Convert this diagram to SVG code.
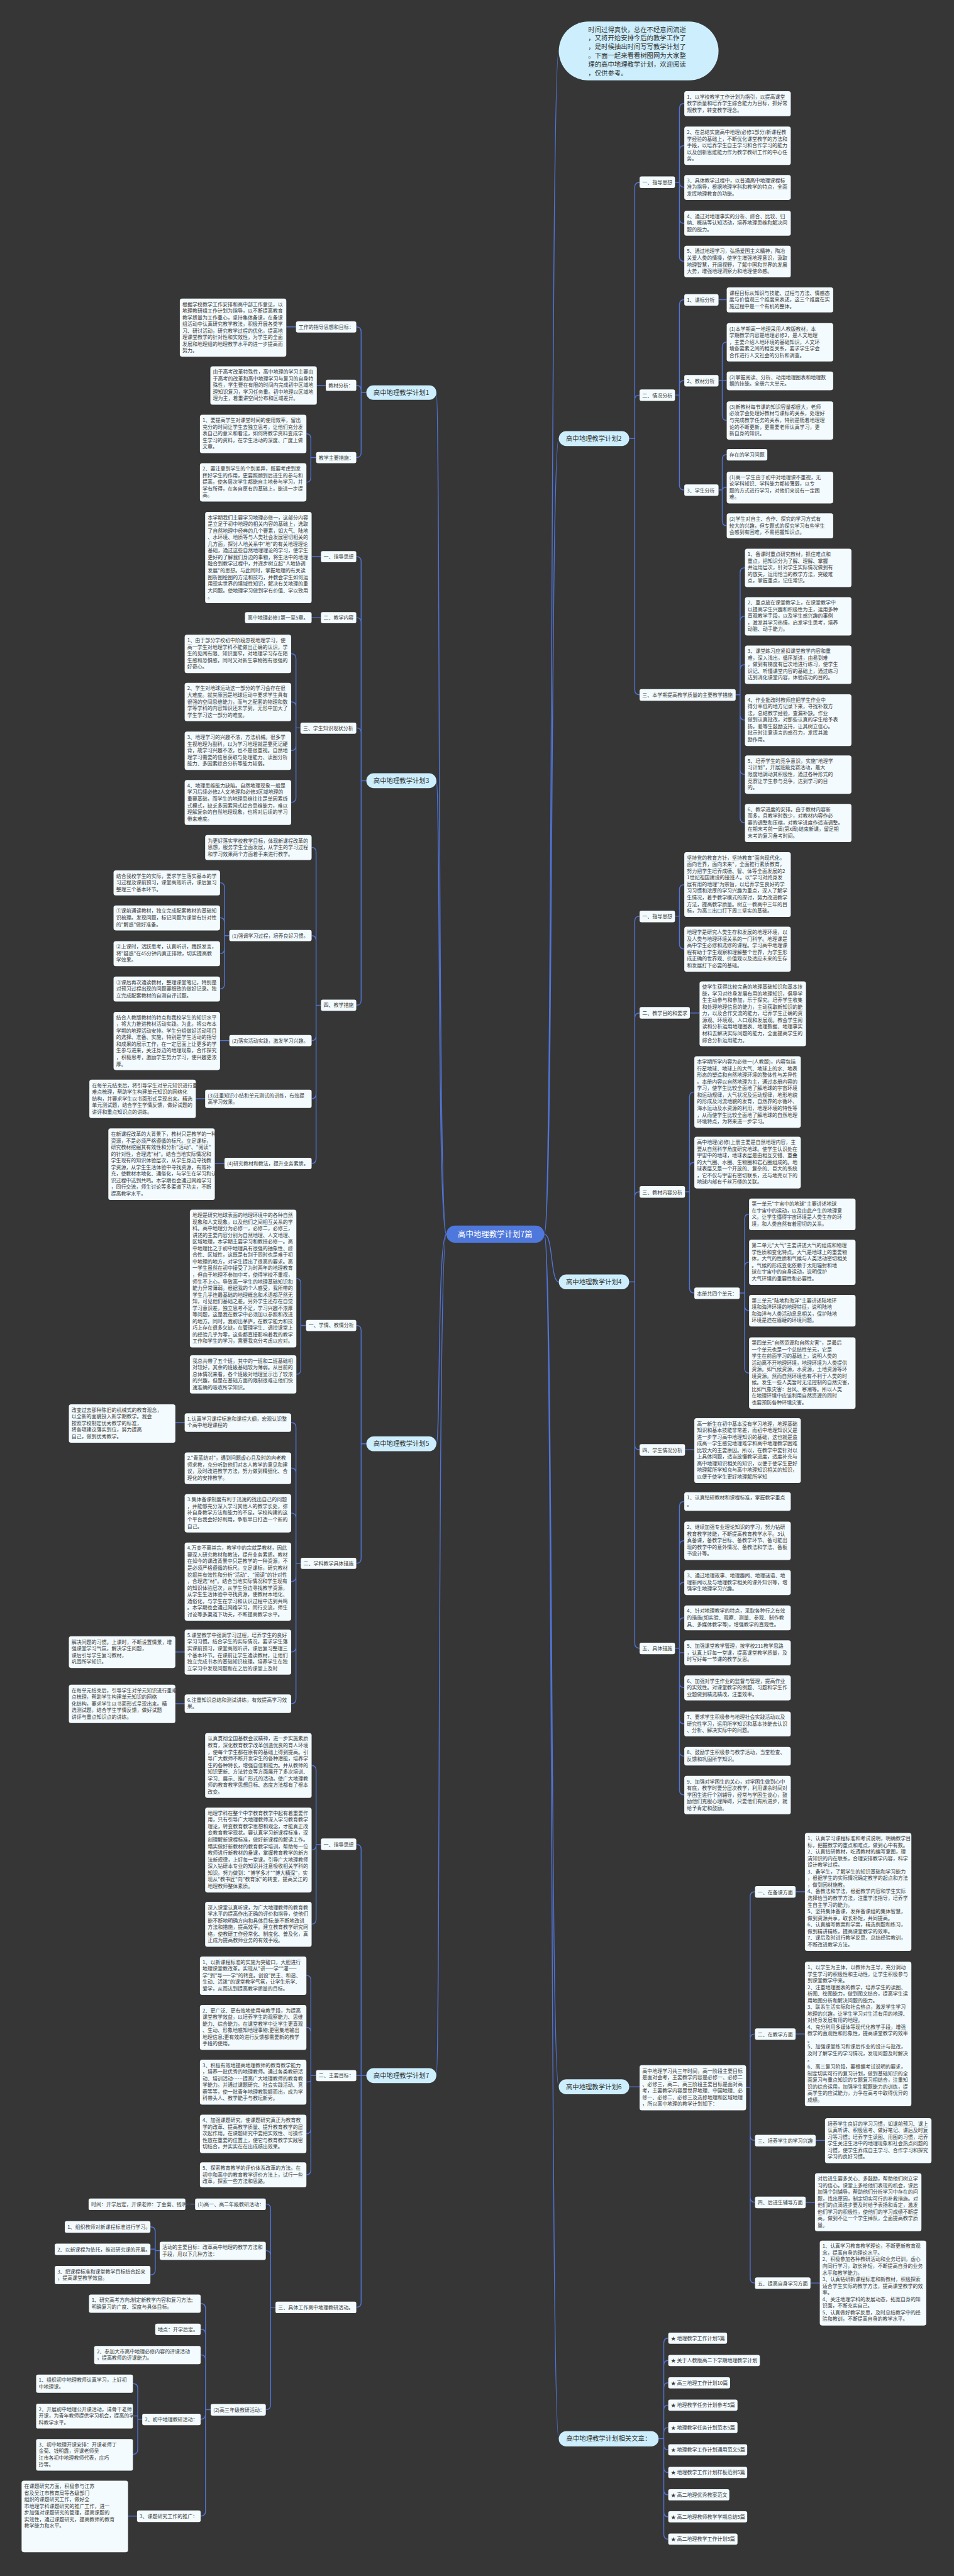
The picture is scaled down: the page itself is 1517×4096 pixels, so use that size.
<svg xmlns="http://www.w3.org/2000/svg" width="1517" height="4096" viewBox="0 0 1517 4096">
<style>
.b{fill:#f3fbfe}
.t{font-family:"Noto Sans CJK SC","Noto Sans",sans-serif;font-size:13.5px;fill:#3a3a3a}
.n1{fill:#cdeffd}
.t1{font-family:"Noto Sans CJK SC","Noto Sans",sans-serif;font-size:17.5px;fill:#333;text-anchor:middle}
.c{fill:none;stroke:#5174d6;stroke-width:2.4}
</style>
<rect width="1517" height="4096" fill="#363636"/>
<g transform="scale(0.592)">
<g id="connectors" class="c">
<path d="M1462,3315C1486,3315 1478,137 1501,137M1462,3315C1486,3315 1478,1178 1501,1178M1462,3315C1486,3315 1478,3443 1501,3443M1462,3315C1486,3315 1478,5605 1501,5605M1462,3315C1486,3315 1478,6550 1501,6550"/>
<path d="M1199,3315C1175,3315 1183,1054 1172,1054M1199,3315C1175,3315 1183,2097 1172,2097M1199,3315C1175,3315 1183,3878 1172,3878M1199,3315C1175,3315 1183,5575 1172,5575"/>
<path d="M1690,1178H1705M1705,1178V503Q1705,490 1718,490M1705,1178V1074Q1705,1061 1718,1061M1705,1178V1853Q1705,1866 1718,1866"/>
<path d="M1813,490H1825M1825,490V291Q1825,278 1838,278M1825,490V404Q1825,391 1838,391M1825,490V490Q1825,503 1838,503M1825,490V587Q1825,600 1838,600M1825,490V689Q1825,702 1838,702"/>
<path d="M1813,1061H1825M1825,1061V818Q1825,805 1838,805M1825,1061V1035Q1825,1022 1838,1022M1825,1061V1303Q1825,1316 1838,1316"/>
<path d="M1930,805H1952M1930,1022H1940M1940,1022V932Q1940,919 1952,919M1940,1022H1952M1940,1022V1116Q1940,1129 1952,1129"/>
<path d="M1930,1316H1940M1940,1316V1234Q1940,1221 1952,1221M1940,1316Q1940,1309 1952,1309M1940,1316V1399Q1940,1412 1952,1412"/>
<path d="M1976,1866H1988M1988,1866V1538Q1988,1525 2001,1525M1988,1866V1668Q1988,1655 2001,1655M1988,1866V1798Q1988,1785 2001,1785M1988,1866V1921Q1988,1934 2001,1934M1988,1866V2067Q1988,2080 2001,2080M1988,1866V2197Q1988,2210 2001,2210"/>
<path d="M1690,3443H1705M1705,3443V2474Q1705,2461 1718,2461M1705,3443V2734Q1705,2721 1718,2721M1705,3443V3214Q1705,3201 1718,3201M1705,3443V3881Q1705,3894 1718,3894M1705,3443V4414Q1705,4427 1718,4427"/>
<path d="M1813,2461H1825M1825,2461V2389Q1825,2376 1838,2376M1825,2461V2536Q1825,2549 1838,2549M1853,2721H1879"/>
<path d="M1840,3201H1852M1852,3201V2946Q1852,2933 1865,2933M1852,3201V3135Q1852,3122 1865,3122M1852,3201V3460Q1852,3473 1865,3473"/>
<path d="M1987,3473H2000M2000,3473V3274Q2000,3261 2012,3261M2000,3473V3403Q2000,3390 2012,3390M2000,3473V3507Q2000,3520 2012,3520M2000,3473V3675Q2000,3688 2012,3688M1840,3894H1865"/>
<path d="M1813,4427H1825M1825,4427V4046Q1825,4033 1838,4033M1825,4427V4151Q1825,4138 1838,4138M1825,4427V4263Q1825,4250 1838,4250M1825,4427V4358Q1825,4345 1838,4345M1825,4427V4439H1838M1825,4427V4520Q1825,4533 1838,4533M1825,4427V4617Q1825,4630 1838,4630M1825,4427V4704Q1825,4717 1838,4717M1825,4427V4808Q1825,4821 1838,4821"/>
<path d="M1690,5605H1718M2003,5607H2015M2015,5607V5094Q2015,5081 2028,5081M2015,5607V5476Q2015,5463 2028,5463M2015,5607V5736Q2015,5749 2028,5749M2015,5607V5902Q2015,5915 2028,5915M2015,5607V6119Q2015,6132 2028,6132"/>
<path d="M2137,5081H2162M2137,5463H2162M2191,5749H2216M2164,5915H2189M2177,6132H2202"/>
<path d="M1769,6550H1783M1783,6550V6293Q1783,6280 1795,6280M1783,6550V6353Q1783,6340 1795,6340M1783,6550V6413Q1783,6400 1795,6400M1783,6550V6473Q1783,6460 1795,6460M1783,6550V6533Q1783,6520 1795,6520M1783,6550V6567Q1783,6580 1795,6580M1783,6550V6628Q1783,6641 1795,6641M1783,6550V6688Q1783,6701 1795,6701M1783,6550V6747Q1783,6760 1795,6760M1783,6550V6807Q1783,6820 1795,6820"/>
<path d="M984,1054H970M970,1054V891Q970,878 957,878M970,1054V1048Q970,1035 957,1035M970,1054V1216Q970,1229 957,1229M795,878H769M875,1035H851M849,1229H835M835,1229V1178Q835,1165 823,1165M835,1229V1282Q835,1295 823,1295"/>
<path d="M984,2097H970M970,2097V1508Q970,1495 957,1495M970,2097V1672Q970,1659 957,1659M970,2097V1968Q970,1955 957,1955M970,2097V2687Q970,2700 957,2700M862,1495H837M862,1659H837"/>
<path d="M807,1955H795M795,1955V1769Q795,1756 782,1756M795,1955V1898Q795,1885 782,1885M795,1955V2003Q795,2016 782,2016M795,1955V2142Q795,2155 782,2155"/>
<path d="M862,2700H849M849,2700V2289Q849,2276 837,2276M849,2700V2526Q849,2513 837,2513M849,2700V2782Q849,2795 837,2795M849,2700V2938Q849,2951 837,2951M849,2700V3112Q849,3125 837,3125"/>
<path d="M616,2513H603M603,2513V2384Q603,2371 591,2371M603,2513V2478Q603,2465 591,2465M603,2513V2548Q603,2561 591,2561M603,2513V2643Q603,2656 591,2656M616,2795H591M552,2951H526M603,3125H577"/>
<path d="M984,3878H970M970,3878V3573Q970,3560 957,3560M970,3878V4186Q970,4199 957,4199M822,3560H808M808,3560V3447Q808,3434 796,3434M808,3560V3678Q808,3691 796,3691"/>
<path d="M808,4199H795M795,4199V3834Q795,3821 782,3821M795,4199V3956Q795,3943 782,3943M795,4199V4077Q795,4064 782,4064M795,4199V4235Q795,4248 782,4248M795,4199V4424Q795,4437 782,4437M795,4199V4563Q795,4576 782,4576M497,3821H471M497,4437H471M497,4576H471"/>
<path d="M984,5575H970M970,5575V4967Q970,4954 957,4954M970,5575H957M970,5575V6184Q970,6197 957,6197M862,4954H849M849,4954V4755Q849,4742 837,4742M849,4954V4956Q849,4969 837,4969M849,4954V5155Q849,5168 837,5168"/>
<path d="M849,5575H835M835,5575V5319Q835,5306 823,5306M835,5575V5458Q835,5445 823,5445M835,5575V5588Q835,5592 823,5592M835,5575V5718Q835,5731 823,5731M835,5575V5828Q835,5841 823,5841"/>
<path d="M740,6197H727M727,6197V5933Q727,5920 714,5920M727,6197V6058Q727,6045 714,6045M727,6197V6459Q727,6472 714,6472M524,5920H498M429,6045H417M417,6045V5994Q417,5981 404,5981M417,6045V6041H404M417,6045V6097Q417,6110 404,6110"/>
<path d="M566,6472H552M552,6472V6200Q552,6187 539,6187M552,6472V6269Q552,6256 539,6256M552,6472V6338Q552,6325 539,6325M552,6472V6485Q552,6498 539,6498M552,6472V6745Q552,6758 539,6758M382,6498H370M370,6498V6415Q370,6402 357,6402M370,6498V6489H357M370,6498V6579Q370,6592 357,6592M368,6758H344"/>
</g>

<g id="center"><rect x="1199" y="3292" width="263" height="46" rx="23" fill="#4f78dc"/><text x="1330" y="3322" font-family="Noto Sans CJK SC,sans-serif" font-size="21" fill="#fff" text-anchor="middle">高中地理教学计划7篇</text></g>

<g id="intro"><rect class="n1" x="1501" y="58" width="429" height="158" rx="79"/><text class="t" style="font-size:17.5px;fill:#333" x="1580" y="62"><tspan x="1580" dy="23.4">时间过得真快，总在不经意间流逝</tspan><tspan x="1580" dy="23.4">，又将开始安排今后的教学工作了</tspan><tspan x="1580" dy="23.4">，是时候抽出时间写写教学计划了</tspan><tspan x="1580" dy="23.4">。下面一起来看看树图网为大家整</tspan><tspan x="1580" dy="23.4">理的高中地理教学计划，欢迎阅读</tspan><tspan x="1580" dy="23.4">，仅供参考。</tspan></text></g>

<g id="plan2"><rect class="n1" x="1501" y="1158" width="189" height="40" rx="20"/><text class="t1" x="1595" y="1184">高中地理教学计划2</text></g>
<g id="p2-1"><rect class="b" x="1718" y="474" width="95" height="31" rx="5"/><text class="t" x="1725" y="495">一、指导思想</text></g>
<g id="p2-1a"><rect class="b" x="1838" y="245" width="286" height="67" rx="6"/><text class="t" x="1845" y="247"><tspan x="1845" dy="17.8">1、以学校教学工作计划为指引，以提高课堂</tspan><tspan x="1845" dy="17.8">教学质量和培养学生综合能力为目标，抓好常</tspan><tspan x="1845" dy="17.8">规教学，转变教学理念。</tspan></text></g>
<g id="p2-1b"><rect class="b" x="1838" y="340" width="286" height="103" rx="6"/><text class="t" x="1845" y="342"><tspan x="1845" dy="17.8">2、在总结实施高中地理(必修1部分)新课程教</tspan><tspan x="1845" dy="17.8">学经验的基础上，不断优化课堂教学的方法和</tspan><tspan x="1845" dy="17.8">手段，以培养学生自主学习和合作学习的能力</tspan><tspan x="1845" dy="17.8">以及创新思维能力作为教学教研工作的中心任</tspan><tspan x="1845" dy="17.8">务。</tspan></text></g>
<g id="p2-1c"><rect class="b" x="1838" y="470" width="286" height="67" rx="6"/><text class="t" x="1845" y="472"><tspan x="1845" dy="17.8">3、具体教学过程中，以普通高中地理课程标</tspan><tspan x="1845" dy="17.8">准为指导，根据地理学科和教学的特点，全面</tspan><tspan x="1845" dy="17.8">发挥地理教育的功能。</tspan></text></g>
<g id="p2-1d"><rect class="b" x="1838" y="566" width="286" height="67" rx="6"/><text class="t" x="1845" y="568"><tspan x="1845" dy="17.8">4、通过对地理事实的分析、综合、比较、归</tspan><tspan x="1845" dy="17.8">纳、概括等认知活动，培养地理思维和解决问</tspan><tspan x="1845" dy="17.8">题的能力。</tspan></text></g>
<g id="p2-1e"><rect class="b" x="1838" y="660" width="286" height="85" rx="6"/><text class="t" x="1845" y="662"><tspan x="1845" dy="17.8">5、通过地理学习，弘扬爱国主义精神，陶冶</tspan><tspan x="1845" dy="17.8">关爱人类的情操，使学生增强地理意识，汲取</tspan><tspan x="1845" dy="17.8">地理智慧，开阔视野，了解中国和世界的发展</tspan><tspan x="1845" dy="17.8">大势，增强地理洞察力和地理使命感。</tspan></text></g>
<g id="p2-2"><rect class="b" x="1718" y="1046" width="95" height="31" rx="5"/><text class="t" x="1725" y="1067">二、情况分析</text></g>
<g id="p2-2-1"><rect class="b" x="1838" y="790" width="92" height="31" rx="5"/><text class="t" x="1845" y="811">1、课标分析</text></g>
<g id="p2-2-1a"><rect class="b" x="1952" y="772" width="286" height="67" rx="6"/><text class="t" x="1959" y="774"><tspan x="1959" dy="17.8">课程目标从知识与技能、过程与方法、情感态</tspan><tspan x="1959" dy="17.8">度与价值观三个维度来表述，这三个维度在实</tspan><tspan x="1959" dy="17.8">施过程中是一个有机的整体。</tspan></text></g>
<g id="p2-2-2"><rect class="b" x="1838" y="1007" width="92" height="31" rx="5"/><text class="t" x="1845" y="1028">2、教材分析</text></g>
<g id="p2-2-2a"><rect class="b" x="1952" y="868" width="286" height="103" rx="6"/><text class="t" x="1959" y="870"><tspan x="1959" dy="17.8">(1)本学期高一地理采用人教版教材，本</tspan><tspan x="1959" dy="17.8">学期教学内容是地理必修2，是人文地理</tspan><tspan x="1959" dy="17.8">，主要介绍人地环境的基础知识，人文环</tspan><tspan x="1959" dy="17.8">境各要素之间的相互关系，要求学生学会</tspan><tspan x="1959" dy="17.8">合作进行人文社会的分析和调查。</tspan></text></g>
<g id="p2-2-2b"><rect class="b" x="1952" y="998" width="286" height="50" rx="6"/><text class="t" x="1959" y="1000"><tspan x="1959" dy="17.8">(2)掌握阅读、分析、动用地理图表和地理数</tspan><tspan x="1959" dy="17.8">据的技能。全册六大单元。</tspan></text></g>
<g id="p2-2-2c"><rect class="b" x="1952" y="1078" width="286" height="103" rx="6"/><text class="t" x="1959" y="1080"><tspan x="1959" dy="17.8">(3)新教材每节课的知识容量都很大，老师</tspan><tspan x="1959" dy="17.8">必须学会处理好教材与课标的关系，处理好</tspan><tspan x="1959" dy="17.8">与完成教学任务的关系，特别是随着地理理</tspan><tspan x="1959" dy="17.8">论的不断更新，更需要老师认真学习，更</tspan><tspan x="1959" dy="17.8">新自身的知识。</tspan></text></g>
<g id="p2-2-3"><rect class="b" x="1838" y="1301" width="92" height="31" rx="5"/><text class="t" x="1845" y="1322">3、学生分析</text></g>
<g id="p2-2-3a"><rect class="b" x="1952" y="1206" width="109" height="31" rx="5"/><text class="t" x="1959" y="1227">存在的学习问题</text></g>
<g id="p2-2-3b"><rect class="b" x="1952" y="1267" width="286" height="85" rx="6"/><text class="t" x="1959" y="1269"><tspan x="1959" dy="17.8">(1)高一学生由于初中对地理课不重视，无</tspan><tspan x="1959" dy="17.8">论学科知识、学科能力都较薄弱，以专</tspan><tspan x="1959" dy="17.8">题的方式进行学习，对他们来说有一定困</tspan><tspan x="1959" dy="17.8">难。</tspan></text></g>
<g id="p2-2-3c"><rect class="b" x="1952" y="1379" width="286" height="67" rx="6"/><text class="t" x="1959" y="1381"><tspan x="1959" dy="17.8">(2)学生对自主、合作、探究的学习方式有</tspan><tspan x="1959" dy="17.8">较大的兴趣，但专题式的探究学习有些学生</tspan><tspan x="1959" dy="17.8">会感到有困难，不易把握知识点。</tspan></text></g>
<g id="p2-3"><rect class="b" x="1718" y="1851" width="258" height="31" rx="5"/><text class="t" x="1725" y="1872">三、本学期提高教学质量的主要教学措施</text></g>
<g id="p2-3a"><rect class="b" x="2001" y="1474" width="286" height="103" rx="6"/><text class="t" x="2008" y="1476"><tspan x="2008" dy="17.8">1、备课时重点研究教材，抓住难点和</tspan><tspan x="2008" dy="17.8">重点，把知识分为了解、理解、掌握</tspan><tspan x="2008" dy="17.8">并运用层次，针对学生实际情况做到有</tspan><tspan x="2008" dy="17.8">的放矢，运用恰当的教学方法，突破难</tspan><tspan x="2008" dy="17.8">点，掌握重点，记住常识。</tspan></text></g>
<g id="p2-3b"><rect class="b" x="2001" y="1604" width="286" height="103" rx="6"/><text class="t" x="2008" y="1606"><tspan x="2008" dy="17.8">2、重点放在课堂教学上，在课堂教学中</tspan><tspan x="2008" dy="17.8">以提高学生兴趣和积极性为主，运用多种</tspan><tspan x="2008" dy="17.8">直观教学手段，以及学生感兴趣的事例</tspan><tspan x="2008" dy="17.8">，激发其学习热情，启发学生思考，培养</tspan><tspan x="2008" dy="17.8">动脑、动手能力。</tspan></text></g>
<g id="p2-3c"><rect class="b" x="2001" y="1734" width="286" height="103" rx="6"/><text class="t" x="2008" y="1736"><tspan x="2008" dy="17.8">3、课堂练习应紧扣课堂教学内容和重</tspan><tspan x="2008" dy="17.8">难，深入浅出，循序渐进，由易到难</tspan><tspan x="2008" dy="17.8">，做到有梯度有层次地进行练习，使学生</tspan><tspan x="2008" dy="17.8">识记、听懂课堂内容的基础上，通过练习</tspan><tspan x="2008" dy="17.8">达到消化课堂内容，体验成功的目的。</tspan></text></g>
<g id="p2-3d"><rect class="b" x="2001" y="1865" width="286" height="139" rx="6"/><text class="t" x="2008" y="1867"><tspan x="2008" dy="17.8">4、作业批改时教师应把学生作业中</tspan><tspan x="2008" dy="17.8">得分率低的地方记录下来，寻找补救方</tspan><tspan x="2008" dy="17.8">法，总结教学经验，查漏补缺。作业</tspan><tspan x="2008" dy="17.8">做到认真批改，对那些认真的学生给予表</tspan><tspan x="2008" dy="17.8">扬，差等生鼓励支持，让其树立信心。</tspan><tspan x="2008" dy="17.8">批示时注意语言的感召力，发挥其激</tspan><tspan x="2008" dy="17.8">励作用。</tspan></text></g>
<g id="p2-3e"><rect class="b" x="2001" y="2029" width="286" height="103" rx="6"/><text class="t" x="2008" y="2031"><tspan x="2008" dy="17.8">5、培养学生的竞争意识，实施"地理学</tspan><tspan x="2008" dy="17.8">习计划"，开展班级竞赛活动，最大</tspan><tspan x="2008" dy="17.8">限度地调动其积极性，通过各种形式的</tspan><tspan x="2008" dy="17.8">竞赛让学生参与竞争，达到学习的目</tspan><tspan x="2008" dy="17.8">的。</tspan></text></g>
<g id="p2-3f"><rect class="b" x="2001" y="2159" width="286" height="103" rx="6"/><text class="t" x="2008" y="2161"><tspan x="2008" dy="17.8">6、教学进度的安排。由于教材内容新</tspan><tspan x="2008" dy="17.8">而多，且教学时数少，对教材内容作必</tspan><tspan x="2008" dy="17.8">要的调整和压缩，对教学进度作适当调整。</tspan><tspan x="2008" dy="17.8">在期末考前一周(第x周)结束新课，留足期</tspan><tspan x="2008" dy="17.8">末考的复习备考时间。</tspan></text></g>

<g id="plan4"><rect class="n1" x="1501" y="3423" width="189" height="40" rx="20"/><text class="t1" x="1595" y="3449">高中地理教学计划4</text></g>
<g id="p4-1"><rect class="b" x="1718" y="2446" width="95" height="31" rx="5"/><text class="t" x="1725" y="2467">一、指导思想</text></g>
<g id="p4-1a"><rect class="b" x="1838" y="2289" width="286" height="174" rx="6"/><text class="t" x="1845" y="2291"><tspan x="1845" dy="17.8">坚持党的教育方针，坚持教育"面向现代化，</tspan><tspan x="1845" dy="17.8">面向世界，面向未来"，全面推行素质教育，</tspan><tspan x="1845" dy="17.8">努力把学生培养成德、智、体等全面发展的2</tspan><tspan x="1845" dy="17.8">1世纪祖国建设的接班人。以"学习对终身发</tspan><tspan x="1845" dy="17.8">展有用的地理"为宗旨，以培养学生良好的学</tspan><tspan x="1845" dy="17.8">习习惯和浓厚的学习兴趣为重点，深入了解学</tspan><tspan x="1845" dy="17.8">生情况，着手教学模式的探讨，努力改进教学</tspan><tspan x="1845" dy="17.8">方法，提高教学质量。树立一教高中三年的目</tspan><tspan x="1845" dy="17.8">标，为高三出口打下周三坚实的基础。</tspan></text></g>
<g id="p4-1b"><rect class="b" x="1838" y="2489" width="286" height="121" rx="6"/><text class="t" x="1845" y="2491"><tspan x="1845" dy="17.8">地理学是研究人类生存和发展的地理环境，以</tspan><tspan x="1845" dy="17.8">及人类与地理环境关系的一门科学。地理课是</tspan><tspan x="1845" dy="17.8">高中学生必修和选修的课程。学习高中地理课</tspan><tspan x="1845" dy="17.8">程有助于学生观察和理解整个世界，为学生形</tspan><tspan x="1845" dy="17.8">成正确的世界观、价值观以及适应未来的生存</tspan><tspan x="1845" dy="17.8">和发展打下必要的基础。</tspan></text></g>
<g id="p4-2"><rect class="b" x="1718" y="2705" width="135" height="31" rx="5"/><text class="t" x="1725" y="2726">二、教学目的和要求</text></g>
<g id="p4-2a"><rect class="b" x="1879" y="2636" width="286" height="174" rx="6"/><text class="t" x="1886" y="2638"><tspan x="1886" dy="17.8">使学生获得比较完备的地理基础知识和基本技</tspan><tspan x="1886" dy="17.8">能，学习对终身发展有用的地理知识，倡导学</tspan><tspan x="1886" dy="17.8">生主动参与和参加，乐于探究。培养学生收集</tspan><tspan x="1886" dy="17.8">和处理地理信息的能力，主动获取新知识的能</tspan><tspan x="1886" dy="17.8">力，以及合作交流的能力，培养学生正确的资</tspan><tspan x="1886" dy="17.8">源观、环境观、人口观和发展观。教会学生阅</tspan><tspan x="1886" dy="17.8">读和分析运用地理图表、地理数据、地理事实</tspan><tspan x="1886" dy="17.8">材料去解决实际问题的能力，全面提高学生的</tspan><tspan x="1886" dy="17.8">综合分析运用能力。</tspan></text></g>
<g id="p4-3"><rect class="b" x="1718" y="3186" width="122" height="31" rx="5"/><text class="t" x="1725" y="3207">三、教材内容分析</text></g>
<g id="p4-3a"><rect class="b" x="1865" y="2837" width="286" height="192" rx="6"/><text class="t" x="1872" y="2839"><tspan x="1872" dy="17.8">本学期所学内容为必修一(人教版)，内容包括</tspan><tspan x="1872" dy="17.8">行星地球、地球上的大气、地球上的水、地表</tspan><tspan x="1872" dy="17.8">形态的塑造和自然地理环境的整体性与差异性</tspan><tspan x="1872" dy="17.8">。本册内容以自然地理为主，通过本册内容的</tspan><tspan x="1872" dy="17.8">学习，使学生比较全面地了解地球的宇宙环境</tspan><tspan x="1872" dy="17.8">和运动规律，大气状况及运动规律，地形地貌</tspan><tspan x="1872" dy="17.8">的形成及河流地貌的发育，自然界的水循环、</tspan><tspan x="1872" dy="17.8">海水运动及水资源的利用，地理环境的特性等</tspan><tspan x="1872" dy="17.8">，从而使学生比较全面地了解地球的自然地理</tspan><tspan x="1872" dy="17.8">环境特点，为将来进一步学习。</tspan></text></g>
<g id="p4-3b"><rect class="b" x="1865" y="3053" width="286" height="139" rx="6"/><text class="t" x="1872" y="3055"><tspan x="1872" dy="17.8">高中地理(必修)上册主要是自然地理内容，主</tspan><tspan x="1872" dy="17.8">要从自然科学角度研究地球。使学生认识处在</tspan><tspan x="1872" dy="17.8">宇宙中的地球，地球表层是由相互交错、重叠</tspan><tspan x="1872" dy="17.8">的大气圈、水圈、生物圈和岩石圈组成的。地</tspan><tspan x="1872" dy="17.8">球表层又是一个开放的、复杂的、巨大的系统</tspan><tspan x="1872" dy="17.8">，它不仅与宇宙有密切联系，还与地壳以下的</tspan><tspan x="1872" dy="17.8">地球内部有千丝万缕的关联。</tspan></text></g>
<g id="p4-3c"><rect class="b" x="1865" y="3458" width="122" height="31" rx="5"/><text class="t" x="1872" y="3479">本册共四个单元：</text></g>
<g id="p4-3c1"><rect class="b" x="2012" y="3219" width="286" height="85" rx="6"/><text class="t" x="2019" y="3221"><tspan x="2019" dy="17.8">第一单元"宇宙中的地球"主要讲述地球</tspan><tspan x="2019" dy="17.8">在宇宙中的运动，以及由此产生的地理意</tspan><tspan x="2019" dy="17.8">义。让学生懂得宇宙环境是人类生存的环</tspan><tspan x="2019" dy="17.8">境，和人类自然有着密切的关系。</tspan></text></g>
<g id="p4-3c2"><rect class="b" x="2012" y="3330" width="286" height="121" rx="6"/><text class="t" x="2019" y="3332"><tspan x="2019" dy="17.8">第二单元"大气"主要讲述大气的组成和物理</tspan><tspan x="2019" dy="17.8">学性质和变化特点。大气是地球上的重要物</tspan><tspan x="2019" dy="17.8">体，大气的性质和气候与人类活动密切相关</tspan><tspan x="2019" dy="17.8">。气候的形成变化依赖于太阳辐射和地</tspan><tspan x="2019" dy="17.8">球在宇宙中的自身运动，说明保护</tspan><tspan x="2019" dy="17.8">大气环境的重要性和必要性。</tspan></text></g>
<g id="p4-3c3"><rect class="b" x="2012" y="3478" width="286" height="85" rx="6"/><text class="t" x="2019" y="3480"><tspan x="2019" dy="17.8">第三单元"陆地和海洋"主要讲述陆地环</tspan><tspan x="2019" dy="17.8">境和海洋环境的地理特征，说明陆地</tspan><tspan x="2019" dy="17.8">和海洋与人类活动息息相关，保护陆地</tspan><tspan x="2019" dy="17.8">环境是迫在眉睫的环境问题。</tspan></text></g>
<g id="p4-3c4"><rect class="b" x="2012" y="3592" width="286" height="192" rx="6"/><text class="t" x="2019" y="3594"><tspan x="2019" dy="17.8">第四单元"自然资源和自然灾害"，是最后</tspan><tspan x="2019" dy="17.8">一个单元也是一个总结性单元，它是</tspan><tspan x="2019" dy="17.8">学生在前面学习的基础上，说明人类的</tspan><tspan x="2019" dy="17.8">活动离不开地理环境，地理环境为人类提供</tspan><tspan x="2019" dy="17.8">资源。如气候资源，水资源，土地资源等环</tspan><tspan x="2019" dy="17.8">境资源。然而自然环境也有不利于人类的时</tspan><tspan x="2019" dy="17.8">候。发生一些人类暂时无法控制的自然灾害，</tspan><tspan x="2019" dy="17.8">比如气象灾害：台风、寒潮等。所以人类</tspan><tspan x="2019" dy="17.8">在地理环境中应该利用自然资源的同时</tspan><tspan x="2019" dy="17.8">也要预防各种环境灾害。</tspan></text></g>
<g id="p4-4"><rect class="b" x="1718" y="3879" width="122" height="31" rx="5"/><text class="t" x="1725" y="3900">四、学生情况分析</text></g>
<g id="p4-4a"><rect class="b" x="1865" y="3809" width="286" height="174" rx="6"/><text class="t" x="1872" y="3811"><tspan x="1872" dy="17.8">高一新生在初中基本没有学习地理，地理基础</tspan><tspan x="1872" dy="17.8">知识和基本技能非常差，而初中地理知识又是</tspan><tspan x="1872" dy="17.8">进一步学习高中地理知识的基础，这也就是造</tspan><tspan x="1872" dy="17.8">成高一学生感觉地理难学和高中地理教学困难</tspan><tspan x="1872" dy="17.8">比较大的主要原因。所以，在教学中要针对以</tspan><tspan x="1872" dy="17.8">上具体问题，适当放慢教学进度，适度补充与</tspan><tspan x="1872" dy="17.8">高中地理知识相关的知识，以便于使学生更好</tspan><tspan x="1872" dy="17.8">地理解所学知充与高中地理知识相关的知识，</tspan><tspan x="1872" dy="17.8">以便于使学生更好地理解所学知</tspan></text></g>
<g id="p4-5"><rect class="b" x="1718" y="4412" width="95" height="31" rx="5"/><text class="t" x="1725" y="4433">五、具体措施</text></g>
<g id="p4-5a"><rect class="b" x="1838" y="4008" width="286" height="50" rx="6"/><text class="t" x="1845" y="4010"><tspan x="1845" dy="17.8">1、认真钻研教材和课程标准，掌握教学重点</tspan><tspan x="1845" dy="17.8">。</tspan></text></g>
<g id="p4-5b"><rect class="b" x="1838" y="4087" width="286" height="103" rx="6"/><text class="t" x="1845" y="4089"><tspan x="1845" dy="17.8">2、继续加强专业理论知识的学习，努力钻研</tspan><tspan x="1845" dy="17.8">教育教学技能，不断提高教育教学水平。3认</tspan><tspan x="1845" dy="17.8">真备课，备教学目标、备教学环节、备可能出</tspan><tspan x="1845" dy="17.8">现的教学中的意外情况、备教法和学法、备板</tspan><tspan x="1845" dy="17.8">书设计等。</tspan></text></g>
<g id="p4-5c"><rect class="b" x="1838" y="4217" width="286" height="67" rx="6"/><text class="t" x="1845" y="4219"><tspan x="1845" dy="17.8">3、通过地理故事、地理趣闻、地理谜语、地</tspan><tspan x="1845" dy="17.8">理新闻以及与地理教学相关的课外知识等，增</tspan><tspan x="1845" dy="17.8">强学生地理学习兴趣。</tspan></text></g>
<g id="p4-5d"><rect class="b" x="1838" y="4312" width="286" height="67" rx="6"/><text class="t" x="1845" y="4314"><tspan x="1845" dy="17.8">4、针对地理教学的特点，采取各种行之有效</tspan><tspan x="1845" dy="17.8">的措施(如实验、观察、测量、参观、制作教</tspan><tspan x="1845" dy="17.8">具、多媒体教学等)，增强教学的直观性。</tspan></text></g>
<g id="p4-5e"><rect class="b" x="1838" y="4406" width="286" height="67" rx="6"/><text class="t" x="1845" y="4408"><tspan x="1845" dy="17.8">5、加强课堂教学管理，按学校211教学思路</tspan><tspan x="1845" dy="17.8">，认真上好每一堂课，提高课堂教学质量，及</tspan><tspan x="1845" dy="17.8">时写好每一节课的教学反思。</tspan></text></g>
<g id="p4-5f"><rect class="b" x="1838" y="4500" width="286" height="67" rx="6"/><text class="t" x="1845" y="4502"><tspan x="1845" dy="17.8">6、加强对学生作业的监督与管理，提高作业</tspan><tspan x="1845" dy="17.8">的实效性。对课堂教学的例题、习题和学生作</tspan><tspan x="1845" dy="17.8">业题做到精选精改，注重效率。</tspan></text></g>
<g id="p4-5g"><rect class="b" x="1838" y="4597" width="286" height="67" rx="6"/><text class="t" x="1845" y="4599"><tspan x="1845" dy="17.8">7、要求学生积极参与地理社会实践活动以及</tspan><tspan x="1845" dy="17.8">研究性学习，运用所学知识和基本技能去认识</tspan><tspan x="1845" dy="17.8">、分析、解决实际中的问题。</tspan></text></g>
<g id="p4-5h"><rect class="b" x="1838" y="4692" width="286" height="50" rx="6"/><text class="t" x="1845" y="4694"><tspan x="1845" dy="17.8">8、鼓励学生积极参与教学活动，当堂检查、</tspan><tspan x="1845" dy="17.8">反馈和巩固所学知识。</tspan></text></g>
<g id="p4-5i"><rect class="b" x="1838" y="4770" width="286" height="103" rx="6"/><text class="t" x="1845" y="4772"><tspan x="1845" dy="17.8">9、加强对学困生的关心，对学困生做到心中</tspan><tspan x="1845" dy="17.8">有底，教学时要分层次教学，利用课余时间对</tspan><tspan x="1845" dy="17.8">学困生进行个别辅导，经常与学困生谈心，鼓</tspan><tspan x="1845" dy="17.8">励他们克服心理障碍，只要他们有所进步，就</tspan><tspan x="1845" dy="17.8">给予肯定和鼓励。</tspan></text></g>

<g id="plan6"><rect class="n1" x="1501" y="5585" width="189" height="40" rx="20"/><text class="t1" x="1595" y="5611">高中地理教学计划6</text></g>
<g id="p6-0"><rect class="b" x="1718" y="5547" width="286" height="121" rx="6"/><text class="t" x="1725" y="5549"><tspan x="1725" dy="17.8">高中地理学习共三年时间，高一阶段主要目标</tspan><tspan x="1725" dy="17.8">是面对会考，主要教学内容是必修一、必修二</tspan><tspan x="1725" dy="17.8">、必修三，高二、高三阶段主要目标是面对高</tspan><tspan x="1725" dy="17.8">考，主要教学内容是世界地理、中国地理、必</tspan><tspan x="1725" dy="17.8">修一、必修二、必修三及选修地理和区域地理</tspan><tspan x="1725" dy="17.8">，所以高中地理的教学计划如下：</tspan></text></g>
<g id="p6-1"><rect class="b" x="2028" y="5066" width="109" height="31" rx="5"/><text class="t" x="2035" y="5087">一、在备课方面</text></g>
<g id="p6-1a"><rect class="b" x="2162" y="4923" width="286" height="317" rx="6"/><text class="t" x="2169" y="4925"><tspan x="2169" dy="17.8">1、认真学习课程标准和考试说明，明确教学目</tspan><tspan x="2169" dy="17.8">标，把握教学的重点和难点，做到心中有数。</tspan><tspan x="2169" dy="17.8">2、认真钻研教材，吃透教材的编写意图，理</tspan><tspan x="2169" dy="17.8">清知识的内在联系，合理安排教学内容，科学</tspan><tspan x="2169" dy="17.8">设计教学过程。</tspan><tspan x="2169" dy="17.8">3、备学生，了解学生的知识基础和学习能力</tspan><tspan x="2169" dy="17.8">，根据学生的实际情况确定教学的起点和方法</tspan><tspan x="2169" dy="17.8">，做到因材施教。</tspan><tspan x="2169" dy="17.8">4、备教法和学法，根据教学内容和学生实际</tspan><tspan x="2169" dy="17.8">选择恰当的教学方法，注重学法指导，培养学</tspan><tspan x="2169" dy="17.8">生自主学习的能力。</tspan><tspan x="2169" dy="17.8">5、坚持集体备课，发挥备课组的集体智慧，</tspan><tspan x="2169" dy="17.8">做到资源共享，取长补短，共同提高。</tspan><tspan x="2169" dy="17.8">6、认真编写教案和学案，精选例题和练习，</tspan><tspan x="2169" dy="17.8">做到精讲精练，提高课堂教学的效率。</tspan><tspan x="2169" dy="17.8">7、课后及时进行教学反思，总结经验教训，</tspan><tspan x="2169" dy="17.8">不断改进教学方法。</tspan></text></g>
<g id="p6-2"><rect class="b" x="2028" y="5448" width="109" height="31" rx="5"/><text class="t" x="2035" y="5469">二、在教学方面</text></g>
<g id="p6-2a"><rect class="b" x="2162" y="5269" width="286" height="388" rx="6"/><text class="t" x="2169" y="5271"><tspan x="2169" dy="17.8">1、以学生为主体，以教师为主导，充分调动</tspan><tspan x="2169" dy="17.8">学生学习的积极性和主动性，让学生积极参与</tspan><tspan x="2169" dy="17.8">到课堂教学中来。</tspan><tspan x="2169" dy="17.8">2、注重地理图表的教学，培养学生的读图、</tspan><tspan x="2169" dy="17.8">析图、绘图能力，做到图文结合，提高学生运</tspan><tspan x="2169" dy="17.8">用地图分析和解决问题的能力。</tspan><tspan x="2169" dy="17.8">3、联系生活实际和社会热点，激发学生学习</tspan><tspan x="2169" dy="17.8">地理的兴趣，让学生学习对生活有用的地理、</tspan><tspan x="2169" dy="17.8">对终身发展有用的地理。</tspan><tspan x="2169" dy="17.8">4、充分利用多媒体等现代化教学手段，增强</tspan><tspan x="2169" dy="17.8">教学的直观性和形象性，提高课堂教学的效率</tspan><tspan x="2169" dy="17.8">。</tspan><tspan x="2169" dy="17.8">5、加强课堂练习和课后作业的设计与批改，</tspan><tspan x="2169" dy="17.8">及时了解学生的学习情况，发现问题及时解决</tspan><tspan x="2169" dy="17.8">。</tspan><tspan x="2169" dy="17.8">6、高三复习阶段，要根据考试说明的要求，</tspan><tspan x="2169" dy="17.8">制定切实可行的复习计划，做到基础知识的全</tspan><tspan x="2169" dy="17.8">面复习与重点知识的专题复习相结合，注重知</tspan><tspan x="2169" dy="17.8">识的综合运用，加强学生解题能力的训练，提</tspan><tspan x="2169" dy="17.8">高学生的应试能力，力争在高考中取得优异的</tspan><tspan x="2169" dy="17.8">成绩。</tspan></text></g>
<g id="p6-3"><rect class="b" x="2028" y="5734" width="163" height="31" rx="5"/><text class="t" x="2035" y="5755">三、培养学生的学习兴趣</text></g>
<g id="p6-3a"><rect class="b" x="2216" y="5689" width="286" height="121" rx="6"/><text class="t" x="2223" y="5691"><tspan x="2223" dy="17.8">培养学生良好的学习习惯，如课前预习、课上</tspan><tspan x="2223" dy="17.8">认真听讲、积极思考、做好笔记、课后及时复</tspan><tspan x="2223" dy="17.8">习等习惯；培养学生读图、用图的习惯，培养</tspan><tspan x="2223" dy="17.8">学生关注生活中的地理现象和社会热点问题的</tspan><tspan x="2223" dy="17.8">习惯，使学生养成自主学习、合作学习和探究</tspan><tspan x="2223" dy="17.8">学习的良好习惯。</tspan></text></g>
<g id="p6-4"><rect class="b" x="2028" y="5900" width="136" height="31" rx="5"/><text class="t" x="2035" y="5921">四、后进生辅导方面</text></g>
<g id="p6-4a"><rect class="b" x="2189" y="5837" width="286" height="156" rx="6"/><text class="t" x="2196" y="5839"><tspan x="2196" dy="17.8">对后进生要多关心、多鼓励，帮助他们树立学</tspan><tspan x="2196" dy="17.8">习的信心。课堂上多给他们表现的机会，课后</tspan><tspan x="2196" dy="17.8">加强个别辅导，帮助他们分析学习中存在的问</tspan><tspan x="2196" dy="17.8">题，找出原因，制定切实可行的补救措施。对</tspan><tspan x="2196" dy="17.8">他们的点滴进步要及时给予表扬和肯定，激发</tspan><tspan x="2196" dy="17.8">他们学习的积极性，使他们的学习成绩不断提</tspan><tspan x="2196" dy="17.8">高，做到不让一个学生掉队，全面提高教学质</tspan><tspan x="2196" dy="17.8">量。</tspan></text></g>
<g id="p6-5"><rect class="b" x="2028" y="6117" width="149" height="31" rx="5"/><text class="t" x="2035" y="6138">五、提高自身学习方面</text></g>
<g id="p6-5a"><rect class="b" x="2202" y="6018" width="286" height="228" rx="6"/><text class="t" x="2209" y="6020"><tspan x="2209" dy="17.8">1、认真学习教育教学理论，不断更新教育观</tspan><tspan x="2209" dy="17.8">念，提高自身的理论水平。</tspan><tspan x="2209" dy="17.8">2、积极参加各种教研活动和业务培训，虚心</tspan><tspan x="2209" dy="17.8">向同行学习，取长补短，不断提高自身的业务</tspan><tspan x="2209" dy="17.8">水平和教学能力。</tspan><tspan x="2209" dy="17.8">3、认真钻研新课程标准和新教材，积极探索</tspan><tspan x="2209" dy="17.8">适合学生实际的教学方法，提高课堂教学的效</tspan><tspan x="2209" dy="17.8">率。</tspan><tspan x="2209" dy="17.8">4、关注地理学科的发展动态，拓宽自身的知</tspan><tspan x="2209" dy="17.8">识面，不断充实自己。</tspan><tspan x="2209" dy="17.8">5、认真做好教学反思，及时总结教学中的经</tspan><tspan x="2209" dy="17.8">验和教训，不断提高自身的教学水平。</tspan></text></g>

<g id="related"><rect class="n1" x="1501" y="6530" width="268" height="41" rx="20"/><text class="t1" x="1635" y="6556">高中地理教学计划相关文章：</text></g>
<g id="r1"><rect class="b" x="1795" y="6265" width="158" height="30" rx="5"/><text class="t" x="1802" y="6285">★ 地理教学工作计划5篇</text></g>
<g id="r2"><rect class="b" x="1795" y="6325" width="246" height="30" rx="5"/><text class="t" x="1802" y="6345">★ 关于人教版高二下学期地理教学计划</text></g>
<g id="r3"><rect class="b" x="1795" y="6385" width="166" height="30" rx="5"/><text class="t" x="1802" y="6405">★ 高三地理工作计划10篇</text></g>
<g id="r4"><rect class="b" x="1795" y="6445" width="186" height="30" rx="5"/><text class="t" x="1802" y="6465">★ 地理教学任务计划参考5篇</text></g>
<g id="r5"><rect class="b" x="1795" y="6505" width="186" height="30" rx="5"/><text class="t" x="1802" y="6525">★ 地理教学任务计划范本5篇</text></g>
<g id="r6"><rect class="b" x="1795" y="6565" width="212" height="30" rx="5"/><text class="t" x="1802" y="6585">★ 地理教学工作计划通用范文5篇</text></g>
<g id="r7"><rect class="b" x="1795" y="6626" width="212" height="30" rx="5"/><text class="t" x="1802" y="6646">★ 地理教学工作计划样板范例5篇</text></g>
<g id="r8"><rect class="b" x="1795" y="6686" width="164" height="30" rx="5"/><text class="t" x="1802" y="6706">★ 高二地理优秀教案范文</text></g>
<g id="r9"><rect class="b" x="1795" y="6745" width="212" height="30" rx="5"/><text class="t" x="1802" y="6765">★ 高二地理教师教学学期总结5篇</text></g>
<g id="r10"><rect class="b" x="1795" y="6805" width="186" height="30" rx="5"/><text class="t" x="1802" y="6825">★ 高二地理教学工作计划5篇</text></g>

<g id="plan1"><rect class="n1" x="984" y="1035" width="188" height="39" rx="19"/><text class="t1" x="1078" y="1060">高中地理教学计划1</text></g>
<g id="p1-1"><rect class="b" x="795" y="863" width="162" height="30" rx="5"/><text class="t" x="802" y="883">工作的指导思想和目标：</text></g>
<g id="p1-1a"><rect class="b" x="483" y="802" width="286" height="156" rx="6"/><text class="t" x="490" y="804"><tspan x="490" dy="17.8">根据学校教学工作安排和高中部工作意见，以</tspan><tspan x="490" dy="17.8">地理教研组工作计划为指导，以不断提高教育</tspan><tspan x="490" dy="17.8">教学质量为工作重心，坚持集体备课，在备课</tspan><tspan x="490" dy="17.8">组活动中认真研究教学教法，积极开展各类学</tspan><tspan x="490" dy="17.8">习、研讨活动，研究教学过程的优化，提高地</tspan><tspan x="490" dy="17.8">理课堂教学的针对性和实效性，为学生的全面</tspan><tspan x="490" dy="17.8">发展和地理组的地理教学水平的进一步提高而</tspan><tspan x="490" dy="17.8">努力。</tspan></text></g>
<g id="p1-2"><rect class="b" x="875" y="1020" width="82" height="30" rx="5"/><text class="t" x="882" y="1040">教材分析：</text></g>
<g id="p1-2a"><rect class="b" x="565" y="984" width="286" height="103" rx="6"/><text class="t" x="572" y="986"><tspan x="572" dy="17.8">由于高考改革特殊性，高中地理的学习主要由</tspan><tspan x="572" dy="17.8">于高考的改革和高中地理学习与复习的自身特</tspan><tspan x="572" dy="17.8">殊性，学生要在有限的时间内完成初中区域地</tspan><tspan x="572" dy="17.8">理知识复习，学习任务重。初中地理以区域地</tspan><tspan x="572" dy="17.8">理为主，着重讲空间分布和区域差异。</tspan></text></g>
<g id="p1-3"><rect class="b" x="849" y="1214" width="108" height="30" rx="5"/><text class="t" x="856" y="1234">教学主要措施：</text></g>
<g id="p1-3a"><rect class="b" x="537" y="1114" width="286" height="103" rx="6"/><text class="t" x="544" y="1116"><tspan x="544" dy="17.8">1、要提高学生对课堂时间的使用效率，留出</tspan><tspan x="544" dy="17.8">充分的时间让学生去独立思考，让他们充分发</tspan><tspan x="544" dy="17.8">表自己的意义和看法，如何将教学资料变成学</tspan><tspan x="544" dy="17.8">生学习的资料，在学生活动的深度、广度上做</tspan><tspan x="544" dy="17.8">文章。</tspan></text></g>
<g id="p1-3b"><rect class="b" x="537" y="1244" width="286" height="103" rx="6"/><text class="t" x="544" y="1246"><tspan x="544" dy="17.8">2、要注意到学生的个别差异，既要考虑到发</tspan><tspan x="544" dy="17.8">挥好学生的作用，更要照顾到后进生的参与和</tspan><tspan x="544" dy="17.8">提高，使各层次学生都能自主地参与学习，并</tspan><tspan x="544" dy="17.8">学有所得，在各自原有的基础上，能进一步提</tspan><tspan x="544" dy="17.8">高。</tspan></text></g>

<g id="plan3"><rect class="n1" x="984" y="2077" width="188" height="40" rx="20"/><text class="t1" x="1078" y="2103">高中地理教学计划3</text></g>
<g id="p3-1"><rect class="b" x="862" y="1480" width="95" height="30" rx="5"/><text class="t" x="869" y="1500">一、指导思想</text></g>
<g id="p3-1a"><rect class="b" x="551" y="1375" width="286" height="245" rx="6"/><text class="t" x="558" y="1377"><tspan x="558" dy="17.8">本学期我们主要学习地理必修一，这部分内容</tspan><tspan x="558" dy="17.8">是立足于初中地理的相关内容的基础上，选取</tspan><tspan x="558" dy="17.8">了自然地理中经典的几个要素，如大气、陆地</tspan><tspan x="558" dy="17.8">、水环境、地质等与人类社会发展密切相关的</tspan><tspan x="558" dy="17.8">几方面，探讨人地关系中"地"的有关地理理论</tspan><tspan x="558" dy="17.8">基础，通过这些自然地理理论的学习，使学生</tspan><tspan x="558" dy="17.8">更好的了解我们身边的事物，将生活中的地理</tspan><tspan x="558" dy="17.8">融合到教学过程中，并逐步树立起"人地协调</tspan><tspan x="558" dy="17.8">发展"的思想。与此同时，掌握地理的有关读</tspan><tspan x="558" dy="17.8">图析图绘图的方法和技巧，并教会学生如何运</tspan><tspan x="558" dy="17.8">用现实世界的境域性知识，解决有关地理的重</tspan><tspan x="558" dy="17.8">大问题。使地理学习做到学有价值、学以致用</tspan><tspan x="558" dy="17.8">。</tspan></text></g>
<g id="p3-2"><rect class="b" x="862" y="1644" width="95" height="30" rx="5"/><text class="t" x="869" y="1664">二、教学内容</text></g>
<g id="p3-2a"><rect class="b" x="658" y="1644" width="179" height="30" rx="5"/><text class="t" x="665" y="1664">高中地理必修1第一至5章。</text></g>
<g id="p3-3"><rect class="b" x="807" y="1941" width="150" height="30" rx="5"/><text class="t" x="814" y="1961">三、学生知识现状分析</text></g>
<g id="p3-3a"><rect class="b" x="496" y="1705" width="286" height="103" rx="6"/><text class="t" x="503" y="1707"><tspan x="503" dy="17.8">1、由于部分学校初中阶段忽视地理学习，使</tspan><tspan x="503" dy="17.8">高一学生对地理学科不能做出正确的认识，学</tspan><tspan x="503" dy="17.8">生的见闻有限、知识面窄，对地理学习存在陌</tspan><tspan x="503" dy="17.8">生感和恐惧感，同时又对新生事物抱有很强的</tspan><tspan x="503" dy="17.8">好奇心。</tspan></text></g>
<g id="p3-3b"><rect class="b" x="496" y="1834" width="286" height="103" rx="6"/><text class="t" x="503" y="1836"><tspan x="503" dy="17.8">2、学生对地球运动这一部分的学习会存在很</tspan><tspan x="503" dy="17.8">大难度。就其原因是地球运动中要求学生具有</tspan><tspan x="503" dy="17.8">很强的空间思维能力，而与之配套的物理和数</tspan><tspan x="503" dy="17.8">学等学科的内容知识还未学到，无形中加大了</tspan><tspan x="503" dy="17.8">学生学习这一部分的难度。</tspan></text></g>
<g id="p3-3c"><rect class="b" x="496" y="1965" width="286" height="103" rx="6"/><text class="t" x="503" y="1967"><tspan x="503" dy="17.8">3、地理学习的兴趣不浓，方法机械。很多学</tspan><tspan x="503" dy="17.8">生视地理为副科，以为学习地理就是靠死记硬</tspan><tspan x="503" dy="17.8">背，故学习兴趣不浓，也不是很重视。自然地</tspan><tspan x="503" dy="17.8">理学习需要的信息获取与处理能力、读图分析</tspan><tspan x="503" dy="17.8">能力、多因素综合分析等能力较弱。</tspan></text></g>
<g id="p3-3d"><rect class="b" x="496" y="2095" width="286" height="121" rx="6"/><text class="t" x="503" y="2097"><tspan x="503" dy="17.8">4、地理思维能力缺陷。自然地理现象一般是</tspan><tspan x="503" dy="17.8">学习后续必修2人文地理和必修3区域地理的</tspan><tspan x="503" dy="17.8">重要基础，而学生的地理思维往往是单因素线</tspan><tspan x="503" dy="17.8">式模式，缺乏多因素网式综合思维能力，难以</tspan><tspan x="503" dy="17.8">理解复杂的自然地理现象，也将对后续的学习</tspan><tspan x="503" dy="17.8">带来难度。</tspan></text></g>
<g id="p3-4"><rect class="b" x="862" y="2685" width="95" height="30" rx="5"/><text class="t" x="869" y="2705">四、教学措施</text></g>
<g id="p3-4a"><rect class="b" x="551" y="2243" width="286" height="67" rx="6"/><text class="t" x="558" y="2245"><tspan x="558" dy="17.8">为更好落实学校教学目标，体现新课程改革的</tspan><tspan x="558" dy="17.8">思想，服务学生全面发展，从学生的学习过程</tspan><tspan x="558" dy="17.8">和学习效果两个方面着手来进行教学。</tspan></text></g>
<g id="p3-4b"><rect class="b" x="616" y="2498" width="221" height="30" rx="5"/><text class="t" x="623" y="2518">(1)强调学习过程，培养良好习惯。</text></g>
<g id="p3-4b1"><rect class="b" x="305" y="2338" width="286" height="67" rx="6"/><text class="t" x="312" y="2340"><tspan x="312" dy="17.8">结合我校学生的实际，要求学生落实基本的学</tspan><tspan x="312" dy="17.8">习过程及课前预习，课堂高效听讲，课后复习</tspan><tspan x="312" dy="17.8">整理三个基本环节。</tspan></text></g>
<g id="p3-4b2"><rect class="b" x="305" y="2432" width="286" height="67" rx="6"/><text class="t" x="312" y="2434"><tspan x="312" dy="17.8">①课前通读教材，独立完成配套教材的基础知</tspan><tspan x="312" dy="17.8">识梳理。发现问题，标记问题为课堂有针对性</tspan><tspan x="312" dy="17.8">的"解惑"做好准备。</tspan></text></g>
<g id="p3-4b3"><rect class="b" x="305" y="2528" width="286" height="67" rx="6"/><text class="t" x="312" y="2530"><tspan x="312" dy="17.8">②上课时，活跃思考，认真听讲，踊跃发言，</tspan><tspan x="312" dy="17.8">将"疑惑"在45分钟内真正排除，切实提高教</tspan><tspan x="312" dy="17.8">学效果。</tspan></text></g>
<g id="p3-4b4"><rect class="b" x="305" y="2623" width="286" height="67" rx="6"/><text class="t" x="312" y="2625"><tspan x="312" dy="17.8">③课后再次通读教材，整理课堂笔记，特别是</tspan><tspan x="312" dy="17.8">对预习过程出现的问题要细致的做好记录。独</tspan><tspan x="312" dy="17.8">立完成配套教材的自测自评试题。</tspan></text></g>
<g id="p3-4c"><rect class="b" x="616" y="2780" width="221" height="30" rx="5"/><text class="t" x="623" y="2800">(2)落实活动实践，激发学习兴趣。</text></g>
<g id="p3-4c1"><rect class="b" x="305" y="2718" width="286" height="156" rx="6"/><text class="t" x="312" y="2720"><tspan x="312" dy="17.8">结合人教版教材的特点和我校学生的知识水平</tspan><tspan x="312" dy="17.8">，将大力推进教材活动实践。为此，将公布本</tspan><tspan x="312" dy="17.8">学期的地理活动安排。学生分组做好活动项目</tspan><tspan x="312" dy="17.8">的选择、准备、实施，特别是学生活动的指导</tspan><tspan x="312" dy="17.8">和成果的展示工作，在一定层面上让更多的学</tspan><tspan x="312" dy="17.8">生参与进来，关注身边的地理现象，合作探究</tspan><tspan x="312" dy="17.8">，积极思考，激励学生努力学习，使兴趣更浓</tspan><tspan x="312" dy="17.8">厚。</tspan></text></g>
<g id="p3-4d"><rect class="b" x="551" y="2927" width="286" height="49" rx="5"/><text class="t" x="558" y="2929"><tspan x="558" dy="17.8">(3)注重知识小结和单元测试的讲练，有效提</tspan><tspan x="558" dy="17.8">高学习效果。</tspan></text></g>
<g id="p3-4d1"><rect class="b" x="240" y="2900" width="286" height="103" rx="6"/><text class="t" x="247" y="2902"><tspan x="247" dy="17.8">在每单元结束后，将引导学生对单元知识进行重</tspan><tspan x="247" dy="17.8">难点梳理，帮助学生构建单元知识的网络化</tspan><tspan x="247" dy="17.8">结构，并要求学生以书面形式呈现出来。精选</tspan><tspan x="247" dy="17.8">单元测试题，结合学生学情反馈，做好试题的</tspan><tspan x="247" dy="17.8">讲评和重点知识点的讲练。</tspan></text></g>
<g id="p3-4e"><rect class="b" x="603" y="3110" width="234" height="30" rx="5"/><text class="t" x="610" y="3130">(4)研究教材和教法，提升业务素质。</text></g>
<g id="p3-4e1"><rect class="b" x="291" y="3031" width="286" height="192" rx="6"/><text class="t" x="298" y="3033"><tspan x="298" dy="17.8">在新课程改革的大背景下，教材只是教学的一种</tspan><tspan x="298" dy="17.8">资源，不是必须严格遵循的标尺。立足课标，</tspan><tspan x="298" dy="17.8">研究教材挖掘其有效性和分析"活动"、"阅读"</tspan><tspan x="298" dy="17.8">的针对性，合理选"材"。结合当地实际情况和</tspan><tspan x="298" dy="17.8">学生现有的知识体验层次，从学生身边寻找教</tspan><tspan x="298" dy="17.8">学资源，从学生生活体验中寻找资源，有效补</tspan><tspan x="298" dy="17.8">充，使教材本地化、通俗化，与学生在学习和认</tspan><tspan x="298" dy="17.8">识过程中达到共鸣。本学期也会通过网络学习</tspan><tspan x="298" dy="17.8">，同行交流，师生讨论等多渠道下功夫，不断</tspan><tspan x="298" dy="17.8">提高教学水平。</tspan></text></g>

<g id="plan5"><rect class="n1" x="984" y="3858" width="188" height="40" rx="20"/><text class="t1" x="1078" y="3884">高中地理教学计划5</text></g>
<g id="p5-1"><rect class="b" x="822" y="3545" width="135" height="30" rx="5"/><text class="t" x="829" y="3565">一、学情、教情分析</text></g>
<g id="p5-1a"><rect class="b" x="510" y="3249" width="286" height="370" rx="6"/><text class="t" x="517" y="3251"><tspan x="517" dy="17.8">地理是研究地球表面的地理环境中的各种自然</tspan><tspan x="517" dy="17.8">现象和人文现象，以及他们之间相互关系的学</tspan><tspan x="517" dy="17.8">科。高中地理分为必修一，必修二，必修三，</tspan><tspan x="517" dy="17.8">讲述的主要内容分别为自然地理、人文地理、</tspan><tspan x="517" dy="17.8">区域地理，本学期主要学习和教授必修一。高</tspan><tspan x="517" dy="17.8">中地理比之于初中地理具有很强的抽象性、综</tspan><tspan x="517" dy="17.8">合性、区域性，这既是有别于同时也是难于初</tspan><tspan x="517" dy="17.8">中地理的地方，对学生提出了很高的要求。高</tspan><tspan x="517" dy="17.8">一学生虽然在初中接受了为时两年的地理教育</tspan><tspan x="517" dy="17.8">，但由于地理不参加中考，使得学校不重视，</tspan><tspan x="517" dy="17.8">师生不上心，导致高一学生的地理基础知识和</tspan><tspan x="517" dy="17.8">能力异常薄弱。根据我的个人感受，我所带的</tspan><tspan x="517" dy="17.8">学生几乎连最基础的地理概念和术语都茫然无</tspan><tspan x="517" dy="17.8">知，可见他们基础之差。另外学生还存在自觉</tspan><tspan x="517" dy="17.8">学习意识差，独立思考不足，学习兴趣不浓厚</tspan><tspan x="517" dy="17.8">等问题，这是我在教学中必须加以参照和改进</tspan><tspan x="517" dy="17.8">的地方。同时，我初出茅庐，在教学能力和技</tspan><tspan x="517" dy="17.8">巧上存在很多欠缺，在管理学生、调控课堂上</tspan><tspan x="517" dy="17.8">的经验几乎为零，这些都直接影响着我的教学</tspan><tspan x="517" dy="17.8">工作和学生的学习，需要我充分考虑以应对。</tspan></text></g>
<g id="p5-1b"><rect class="b" x="510" y="3640" width="286" height="103" rx="6"/><text class="t" x="517" y="3642"><tspan x="517" dy="17.8">我总共带了五个班，其中的一班和二班基础相</tspan><tspan x="517" dy="17.8">对较好，其余的班级基础较为薄弱。从目前的</tspan><tspan x="517" dy="17.8">总体情况来看，各个班级对地理显示出了较浓</tspan><tspan x="517" dy="17.8">的兴趣，但是在基础方面的限制很难让他们快</tspan><tspan x="517" dy="17.8">速准确的吸收所学知识。</tspan></text></g>
<g id="p5-2"><rect class="b" x="808" y="4184" width="149" height="30" rx="5"/><text class="t" x="815" y="4204">二、学科教学具体措施</text></g>
<g id="p5-2a"><rect class="b" x="496" y="3796" width="286" height="50" rx="6"/><text class="t" x="503" y="3798"><tspan x="503" dy="17.8">1.认真学习课程标准和课程大纲，宏观认识整</tspan><tspan x="503" dy="17.8">个高中地理课程的</tspan></text></g>
<g id="p5-2a1"><rect class="b" x="185" y="3772" width="286" height="103" rx="6"/><text class="t" x="192" y="3774"><tspan x="192" dy="17.8">改变过去那种陈旧的机械式的教育观念，</tspan><tspan x="192" dy="17.8">以全新的面貌投入新学期教学。我会</tspan><tspan x="192" dy="17.8">按照学校制定优秀教学的标准，</tspan><tspan x="192" dy="17.8">将各项建议落实到位，努力提高</tspan><tspan x="192" dy="17.8">自己，做到优秀教学。</tspan></text></g>
<g id="p5-2b"><rect class="b" x="496" y="3901" width="286" height="85" rx="6"/><text class="t" x="503" y="3903"><tspan x="503" dy="17.8">2."青蓝结对"，遇到问题虚心且及时的向老教</tspan><tspan x="503" dy="17.8">师求教，充分听取他们对本人教学的意见和建</tspan><tspan x="503" dy="17.8">议，及时改进教学方法，努力做到精细化、合</tspan><tspan x="503" dy="17.8">理化的安排教学。</tspan></text></g>
<g id="p5-2c"><rect class="b" x="496" y="4013" width="286" height="103" rx="6"/><text class="t" x="503" y="4015"><tspan x="503" dy="17.8">3.集体备课制度有利于迅速的找出自己的问题</tspan><tspan x="503" dy="17.8">，并能够充分深入学习其他人的教学长处，弥</tspan><tspan x="503" dy="17.8">补自身教学方法和能力的不足。学校构建的这</tspan><tspan x="503" dy="17.8">个平台我会好好利用，争取早日打造一个新的</tspan><tspan x="503" dy="17.8">自己。</tspan></text></g>
<g id="p5-2d"><rect class="b" x="496" y="4143" width="286" height="210" rx="6"/><text class="t" x="503" y="4145"><tspan x="503" dy="17.8">4.万变不离其宗，教学中的宗就是教材，因此</tspan><tspan x="503" dy="17.8">要深入研究教材和教法，提升业务素质。教材</tspan><tspan x="503" dy="17.8">在如今的课改背景中只是教学的一种资源，不</tspan><tspan x="503" dy="17.8">是必须严格遵循的标尺。立足课标，研究教材</tspan><tspan x="503" dy="17.8">挖掘其有效性和分析"活动"、"阅读"的针对性</tspan><tspan x="503" dy="17.8">，合理选"材"。结合当地实际情况和学生现有</tspan><tspan x="503" dy="17.8">的知识体验层次，从学生身边寻找教学资源，</tspan><tspan x="503" dy="17.8">从学生生活体验中寻找资源，使教材本地化、</tspan><tspan x="503" dy="17.8">通俗化，与学生在学习和认识过程中达到共鸣</tspan><tspan x="503" dy="17.8">。本学期也会通过网络学习，同行交流，师生</tspan><tspan x="503" dy="17.8">讨论等多渠道下功夫，不断提高教学水平。</tspan></text></g>
<g id="p5-2e"><rect class="b" x="496" y="4377" width="286" height="121" rx="6"/><text class="t" x="503" y="4379"><tspan x="503" dy="17.8">5.课堂教学中强调学习过程，培养学生的良好</tspan><tspan x="503" dy="17.8">学习习惯。结合学生的实际情况，要求学生落</tspan><tspan x="503" dy="17.8">实课前预习，课堂高效听讲，课后复习整理三</tspan><tspan x="503" dy="17.8">个基本环节。在课前让学生通读教材，让他们</tspan><tspan x="503" dy="17.8">独立完成书本的基础知识梳理。培养学生在独</tspan><tspan x="503" dy="17.8">立学习中发现问题和在之后的课堂上及时</tspan></text></g>
<g id="p5-2e1"><rect class="b" x="185" y="4395" width="286" height="85" rx="6"/><text class="t" x="192" y="4397"><tspan x="192" dy="17.8">解决问题的习惯。上课时，不断设置情景，增</tspan><tspan x="192" dy="17.8">强课堂学习气氛，解决学生问题，</tspan><tspan x="192" dy="17.8">课后引导学生复习教材，</tspan><tspan x="192" dy="17.8">巩固所学知识。</tspan></text></g>
<g id="p5-2f"><rect class="b" x="496" y="4551" width="286" height="50" rx="6"/><text class="t" x="503" y="4553"><tspan x="503" dy="17.8">6.注重知识总结和测试讲练，有效提高学习效</tspan><tspan x="503" dy="17.8">果。</tspan></text></g>
<g id="p5-2f1"><rect class="b" x="185" y="4525" width="286" height="103" rx="6"/><text class="t" x="192" y="4527"><tspan x="192" dy="17.8">在每单元结束后，引导学生对单元知识进行重难</tspan><tspan x="192" dy="17.8">点梳理，帮助学生构建单元知识的网络</tspan><tspan x="192" dy="17.8">化结构，要求学生以书面形式呈现出来。精</tspan><tspan x="192" dy="17.8">选测试题，结合学生学情反馈，做好试题</tspan><tspan x="192" dy="17.8">讲评与重点知识点的讲练。</tspan></text></g>

<g id="plan7"><rect class="n1" x="984" y="5555" width="188" height="40" rx="20"/><text class="t1" x="1078" y="5581">高中地理教学计划7</text></g>
<g id="p7-1"><rect class="b" x="862" y="4938" width="95" height="31" rx="5"/><text class="t" x="869" y="4959">一、指导思想</text></g>
<g id="p7-1a"><rect class="b" x="551" y="4655" width="286" height="174" rx="6"/><text class="t" x="558" y="4657"><tspan x="558" dy="17.8">认真贯彻全国基教会议精神，进一步实施素质</tspan><tspan x="558" dy="17.8">教育，深化教育教学改革创造优良的育人环境</tspan><tspan x="558" dy="17.8">，使每个学生都在原有的基础上得到提高。引</tspan><tspan x="558" dy="17.8">导广大教师不断开发学生的各种潜能，培养学</tspan><tspan x="558" dy="17.8">生的各种特长，增强自信和能力。并从教师的</tspan><tspan x="558" dy="17.8">知识更新、方法转变等方面展开了多次培训、</tspan><tspan x="558" dy="17.8">学习、展示、推广形式的活动。使广大地理教</tspan><tspan x="558" dy="17.8">师的教育教学思想目标、态度方法都有了根本</tspan><tspan x="558" dy="17.8">改变。</tspan></text></g>
<g id="p7-1b"><rect class="b" x="551" y="4855" width="286" height="228" rx="6"/><text class="t" x="558" y="4857"><tspan x="558" dy="17.8">地理学科在整个中学教育教学中起有着重要作</tspan><tspan x="558" dy="17.8">用，只有引导广大地理教师深入学习教育教学</tspan><tspan x="558" dy="17.8">理论，转变教育教学思想和观念，才能真正改</tspan><tspan x="558" dy="17.8">变教育教学现状。要认真学习新课程标准，深</tspan><tspan x="558" dy="17.8">刻理解新课程标准，做好新课程的解读工作。</tspan><tspan x="558" dy="17.8">塌实做好新教材的教育教学培训，帮助每一位</tspan><tspan x="558" dy="17.8">教师进行新教材的备课，掌握教育教学的新方</tspan><tspan x="558" dy="17.8">法新规律，上好每一堂课。引导广大地理教师</tspan><tspan x="558" dy="17.8">深入钻研本专业的知识并注意吸收相关学科的</tspan><tspan x="558" dy="17.8">知识。努力做到："博学多才""博大精深"，实</tspan><tspan x="558" dy="17.8">现从"教书匠"向"教育家"的转变，提高吴江的</tspan><tspan x="558" dy="17.8">地理教师整体素质。</tspan></text></g>
<g id="p7-1c"><rect class="b" x="551" y="5108" width="286" height="121" rx="6"/><text class="t" x="558" y="5110"><tspan x="558" dy="17.8">深入课堂认真听课，为广大地理教师的教育教</tspan><tspan x="558" dy="17.8">学水平的提高作出正确的评价和指导，使他们</tspan><tspan x="558" dy="17.8">能不断地明确方向和具体目标;能不断地改进</tspan><tspan x="558" dy="17.8">方法和措施，提高效率。建立教育教学研究网</tspan><tspan x="558" dy="17.8">络，使教研工作经常化、制度化、普及化，真</tspan><tspan x="558" dy="17.8">正成为提高教师业务的有效手段。</tspan></text></g>
<g id="p7-2"><rect class="b" x="849" y="5560" width="108" height="30" rx="5"/><text class="t" x="856" y="5580">二、主要目标：</text></g>
<g id="p7-2a"><rect class="b" x="537" y="5255" width="286" height="103" rx="6"/><text class="t" x="544" y="5257"><tspan x="544" dy="17.8">1、以新课程标准的实施为突破口，大胆进行</tspan><tspan x="544" dy="17.8">地理课堂教改革。实现从"讲——学""灌——</tspan><tspan x="544" dy="17.8">学"到"导——学"的转变。创设"民主、和谐、</tspan><tspan x="544" dy="17.8">生动、活泼"的课堂教学气氛，让学生乐学、</tspan><tspan x="544" dy="17.8">爱学，从而达到提高教学质量的目标。</tspan></text></g>
<g id="p7-2b"><rect class="b" x="537" y="5385" width="286" height="121" rx="6"/><text class="t" x="544" y="5387"><tspan x="544" dy="17.8">2、更广泛、更有效地使用电教手段，为提高</tspan><tspan x="544" dy="17.8">课堂教学效益，以培养学生的观察能力、思维</tspan><tspan x="544" dy="17.8">能力、综合能力。在课堂教学中让学生更直观</tspan><tspan x="544" dy="17.8">、生动、形象地感知地理事物;更密集地输出</tspan><tspan x="544" dy="17.8">地理信息;更有效的进行反馈都需要新的教学</tspan><tspan x="544" dy="17.8">手段的使用。</tspan></text></g>
<g id="p7-2c"><rect class="b" x="537" y="5532" width="286" height="121" rx="6"/><text class="t" x="544" y="5534"><tspan x="544" dy="17.8">3、积极有效地提高地理教师的教育教学能力</tspan><tspan x="544" dy="17.8">，培养一批优秀的地理教师。通过各类教研活</tspan><tspan x="544" dy="17.8">动、培训活动……提高广大地理教师的教育教</tspan><tspan x="544" dy="17.8">学能力。并通过课题研究、社会实践活动、竞</tspan><tspan x="544" dy="17.8">赛等等，使一批青年地理教脱颖而出，成为学</tspan><tspan x="544" dy="17.8">科带头人、教学能手与教坛新秀。</tspan></text></g>
<g id="p7-2d"><rect class="b" x="537" y="5680" width="286" height="103" rx="6"/><text class="t" x="544" y="5682"><tspan x="544" dy="17.8">4、加强课题研究，使课题研究真正为教育教</tspan><tspan x="544" dy="17.8">学的改革、提高教学质量、提升教育教学的层</tspan><tspan x="544" dy="17.8">次起作用。在课题研究中要把实效性、可操作</tspan><tspan x="544" dy="17.8">性放在重要的位置上，使它与教育教学实践密</tspan><tspan x="544" dy="17.8">切结合，并实实在在出成绩出效果。</tspan></text></g>
<g id="p7-2e"><rect class="b" x="537" y="5808" width="286" height="67" rx="6"/><text class="t" x="544" y="5810"><tspan x="544" dy="17.8">5、探索教育教学的评价体系改革的方法。在</tspan><tspan x="544" dy="17.8">初中和高中的教育教学评价方法上，试行一些</tspan><tspan x="544" dy="17.8">改革，探索一些方法和思路。</tspan></text></g>
<g id="p7-3"><rect class="b" x="740" y="6182" width="217" height="31" rx="5"/><text class="t" x="747" y="6203">三、具体工作高中地理教研活动。</text></g>
<g id="p7-3a"><rect class="b" x="524" y="5905" width="190" height="31" rx="5"/><text class="t" x="531" y="5926">(1)高一、高二年级教研活动：</text></g>
<g id="p7-3a1"><rect class="b" x="238" y="5905" width="260" height="31" rx="5"/><text class="t" x="245" y="5926">时间：开学后定，开课老师：丁金菊、钱明霞</text></g>
<g id="p7-3b"><rect class="b" x="429" y="6021" width="285" height="49" rx="5"/><text class="t" x="436" y="6023"><tspan x="436" dy="17.8">活动的主要目标：改革高中地理的教学方法和</tspan><tspan x="436" dy="17.8">手段，用以下几种方法：</tspan></text></g>
<g id="p7-3b1"><rect class="b" x="174" y="5966" width="230" height="31" rx="5"/><text class="t" x="181" y="5987">1、组织教师对新课程标准进行学习。</text></g>
<g id="p7-3b2"><rect class="b" x="147" y="6026" width="257" height="31" rx="5"/><text class="t" x="154" y="6047">2、以新课程为依托，推进研究课的开展。</text></g>
<g id="p7-3b3"><rect class="b" x="147" y="6086" width="257" height="49" rx="5"/><text class="t" x="154" y="6088"><tspan x="154" dy="17.8">3、把课程标准和课堂教学目标结合起来</tspan><tspan x="154" dy="17.8">，提高课堂教学效益。</tspan></text></g>
<g id="p7-3c"><rect class="b" x="566" y="6457" width="148" height="31" rx="5"/><text class="t" x="573" y="6478">(2)高三年级教研活动：</text></g>
<g id="p7-3c1"><rect class="b" x="239" y="6163" width="300" height="49" rx="5"/><text class="t" x="246" y="6165"><tspan x="246" dy="17.8">1、研究高考方向;制定新教学内容和复习方法;</tspan><tspan x="246" dy="17.8">明确复习的广度、深度与具体目标。</tspan></text></g>
<g id="p7-3c2"><rect class="b" x="417" y="6241" width="122" height="31" rx="5"/><text class="t" x="424" y="6262">地点：开学后定。</text></g>
<g id="p7-3c3"><rect class="b" x="253" y="6301" width="286" height="49" rx="5"/><text class="t" x="260" y="6303"><tspan x="260" dy="17.8">2、参加大市高中地理必修内容的评课活动</tspan><tspan x="260" dy="17.8">，提高教师的评课能力。</tspan></text></g>
<g id="p7-3d"><rect class="b" x="382" y="6483" width="157" height="31" rx="5"/><text class="t" x="389" y="6504">2、初中地理教研活动：</text></g>
<g id="p7-3d1"><rect class="b" x="97" y="6378" width="260" height="49" rx="5"/><text class="t" x="104" y="6380"><tspan x="104" dy="17.8">1、组织初中地理教师认真学习，上好初</tspan><tspan x="104" dy="17.8">中地理课。</tspan></text></g>
<g id="p7-3d2"><rect class="b" x="97" y="6456" width="260" height="67" rx="5"/><text class="t" x="104" y="6458"><tspan x="104" dy="17.8">2、开展初中地理公开课活动，请骨干老师</tspan><tspan x="104" dy="17.8">开课，为青年教师提供学习机会，提高的学</tspan><tspan x="104" dy="17.8">科教学水平。</tspan></text></g>
<g id="p7-3d3"><rect class="b" x="97" y="6551" width="260" height="85" rx="5"/><text class="t" x="104" y="6553"><tspan x="104" dy="17.8">3、初中地理开课安排：开课老师丁</tspan><tspan x="104" dy="17.8">金菊、钱明霞，评课老师吴</tspan><tspan x="104" dy="17.8">江市各初中地理教师代表，庄巧</tspan><tspan x="104" dy="17.8">玲等。</tspan></text></g>
<g id="p7-3e"><rect class="b" x="368" y="6743" width="171" height="31" rx="5"/><text class="t" x="375" y="6764">3、课题研究工作的推广：</text></g>
<g id="p7-3e1"><rect class="b" x="58" y="6663" width="286" height="192" rx="6"/><text class="t" x="65" y="6665"><tspan x="65" dy="17.8">在课题研究方面，积极参与江苏</tspan><tspan x="65" dy="17.8">省及吴江市教育局等各级部门</tspan><tspan x="65" dy="17.8">组织的课题研究工作，做好全</tspan><tspan x="65" dy="17.8">市地理学科课题研究的推广工作，进一</tspan><tspan x="65" dy="17.8">步加强对课题研究的管理，提高课题的</tspan><tspan x="65" dy="17.8">实效性，通过课题研究，提高教师的教育</tspan><tspan x="65" dy="17.8">教学能力和水平。</tspan></text></g>
</g>
</svg>
